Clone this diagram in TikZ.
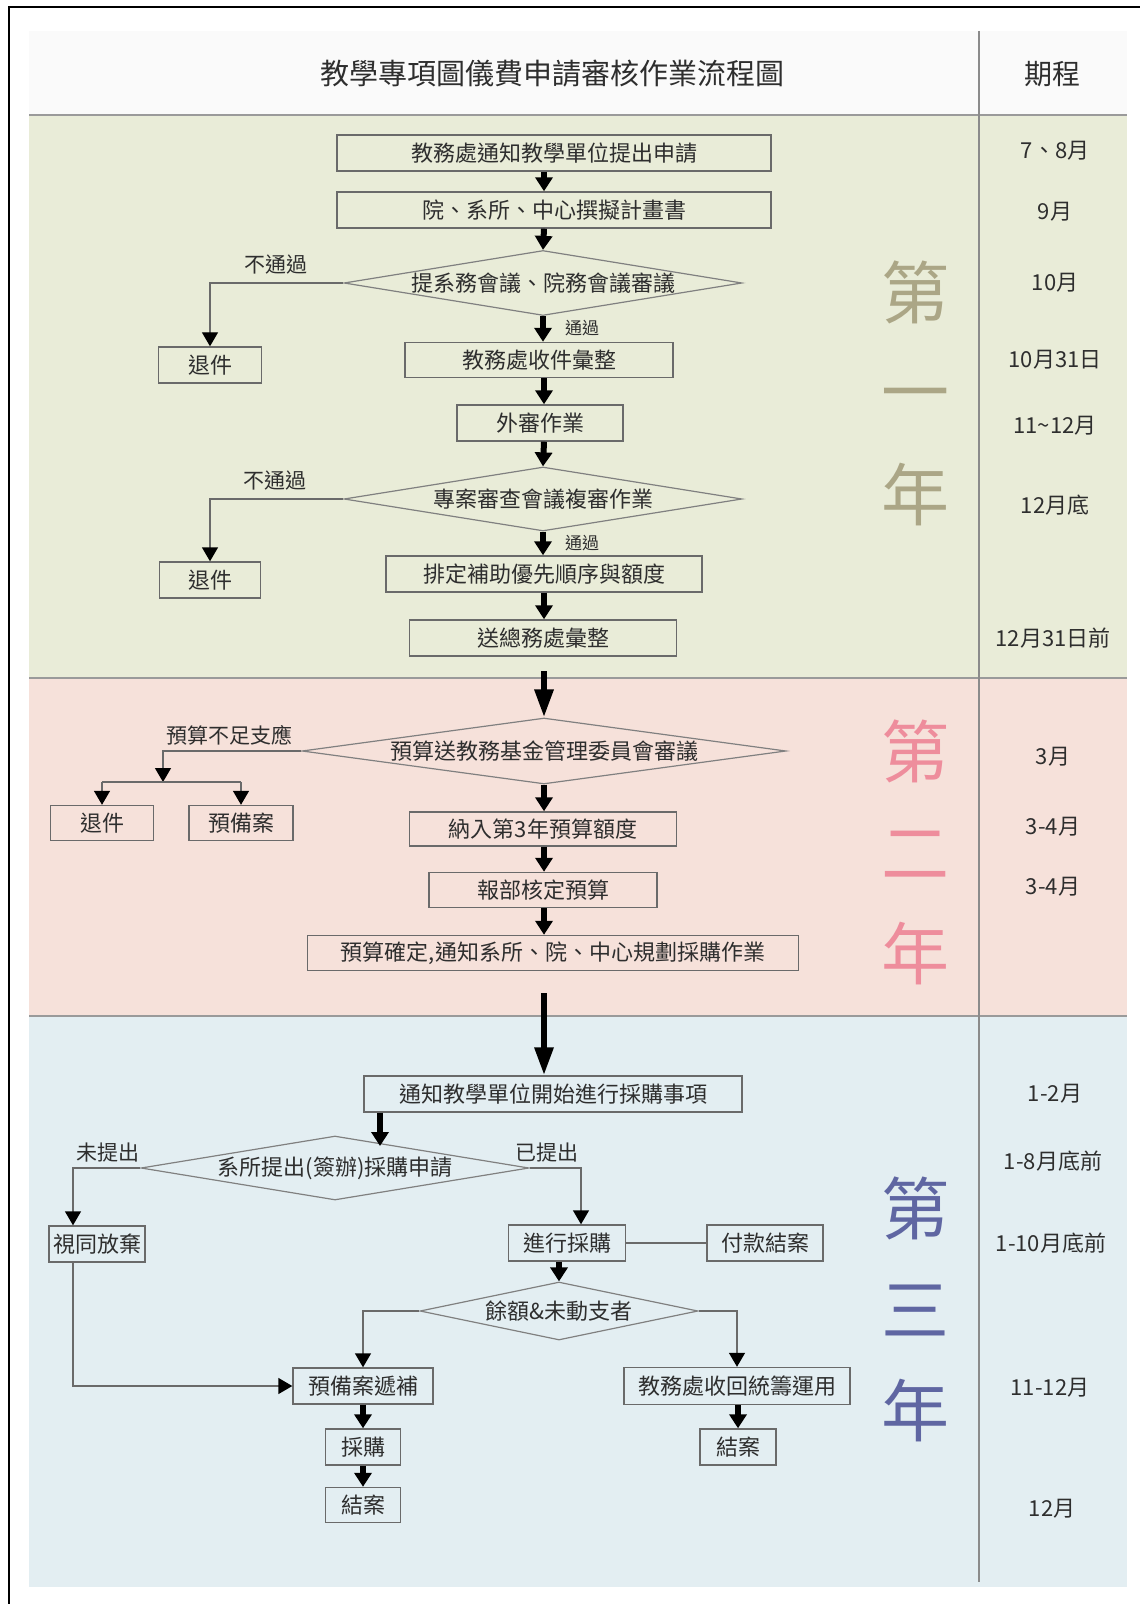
\documentclass[tikz,border=0pt]{standalone}
\usepackage{fontspec}
\setmainfont{Noto Sans CJK TC}
\usetikzlibrary{arrows.meta,shapes.geometric}
\definecolor{secA}{HTML}{E9ECD8}
\definecolor{secB}{HTML}{F6E1DA}
\definecolor{secC}{HTML}{E3EEF2}
\definecolor{hdr}{HTML}{FAFAFA}
\definecolor{yrA}{HTML}{ABA686}
\definecolor{yrB}{HTML}{EE8D9C}
\definecolor{yrC}{HTML}{5F66A2}
\definecolor{edgec}{HTML}{6A6A6A}
\definecolor{txt}{HTML}{2E2E2E}
\definecolor{sepc}{HTML}{9A9A9A}
\begin{document}
\begin{tikzpicture}[x=0.5pt,y=-0.5pt,
  sz/.style 2 args={minimum width=#1*0.5pt, minimum height=#2*0.5pt},
  box/.style={draw=edgec, line width=0.7pt, rectangle, inner sep=0pt, text=txt, font=\fontsize{11}{13}\selectfont},
  dec/.style={draw=edgec!85, line width=0.6pt, diamond, inner sep=0pt, text=txt, font=\fontsize{11}{13}\selectfont},
  big/.style={-{Triangle[width=8.5pt,length=7pt]}, line width=3pt, black},
  bigl/.style={-{Triangle[width=9pt,length=14pt]}, line width=3pt, black},
  conn/.style={-{Triangle[width=8pt,length=7pt,color=black]}, draw=edgec, line width=0.7pt},
  link/.style={draw=edgec, line width=0.7pt},
  lbl/.style={text=txt, font=\fontsize{10.5}{12}\selectfont, inner sep=0pt},
  lbls/.style={text=txt, font=\fontsize{8.5}{10}\selectfont, inner sep=0pt},
  per/.style={text=txt, font=\fontsize{11}{13}\selectfont, inner sep=0pt},
  yr/.style={font=\fontsize{34}{36}\selectfont, inner sep=0pt}
]
\useasboundingbox (0,0) rectangle (1140,1604);
% backgrounds
\fill[white] (0,0) rectangle (1140,1604);
\fill[hdr] (29,31) rectangle (1127,115);
\fill[secA] (29,115) rectangle (1127,678);
\fill[secB] (29,678) rectangle (1127,1016);
\fill[secC] (29,1016) rectangle (1127,1587);
\draw[sepc, line width=1pt] (29,115) -- (1127,115);
\draw[sepc, line width=1pt] (29,678) -- (1127,678);
\draw[sepc, line width=1pt] (29,1016) -- (1127,1016);
\draw[sepc!90!black, line width=0.6pt] (979,31) -- (979,1582);
\draw[black, line width=1pt] (9,1604) -- (9,7) -- (1140,7);

% header
\node[text=txt, font=\fontsize{14.5}{16}\selectfont, inner sep=0pt] (title) at (552,74) {教學專項圖儀費申請審核作業流程圖};
\node[text=txt, font=\fontsize{14}{16}\selectfont, inner sep=0pt] (qc) at (1052,74) {期程};

% year labels
\node[yr, text=yrA] (ya1) at (915,292) {第};
\node[yr, text=yrA] (ya2) at (915,403) {一};
\node[yr, text=yrA] (ya3) at (915,495) {年};
\node[yr, text=yrB] (yb1) at (915,751) {第};
\node[yr, text=yrB] (yb2) at (915,855) {二};
\node[yr, text=yrB] (yb3) at (915,954) {年};
\node[yr, text=yrC] (yc1) at (915,1208) {第};
\node[yr, text=yrC] (yc2) at (915,1310) {三};
\node[yr, text=yrC] (yc3) at (915,1411) {年};

% period labels
\node[per] (t1) at (1055,151) {7、8月};
\node[per] (t2) at (1055,212) {9月};
\node[per] (t3) at (1055,283) {10月};
\node[per] (t4) at (1055,360) {10月31日};
\node[per] (t5) at (1055,426) {11\textasciitilde 12月};
\node[per] (t6) at (1055,505) {12月底};
\node[per] (t7) at (1053,638) {12月31日前};
\node[per] (t8) at (1053,757) {3月};
\node[per] (t9) at (1053,827) {3-4月};
\node[per] (t10) at (1053,887) {3-4月};
\node[per] (t11) at (1055,1094) {1-2月};
\node[per] (t12) at (1053,1161) {1-8月底前};
\node[per] (t13) at (1051,1243) {1-10月底前};
\node[per] (t14) at (1050,1388) {11-12月};
\node[per] (t15) at (1052,1509) {12月};

% section 1
\node[box,sz={434}{36}] (b1) at (554,153) {教務處通知教學單位提出申請};
\node[box,sz={434}{36}] (b2) at (554,210) {院、系所、中心撰擬計畫書};
\node[dec,sz={398}{65}] (d1) at (543,283) {\makebox[0pt]{提系務會議、院務會議審議}};
\node[box,sz={103}{36}] (r1) at (210,365) {退件};
\node[box,sz={268}{35}] (b3) at (539,360) {教務處收件彙整};
\node[box,sz={166}{36}] (b4) at (540,423) {外審作業};
\node[dec,sz={398}{64}] (d2) at (543,499) {\makebox[0pt]{專案審查會議複審作業}};
\node[box,sz={101}{36}] (r2) at (210,580) {退件};
\node[box,sz={316}{36}] (b5) at (544,574) {排定補助優先順序與額度};
\node[box,sz={267}{36}] (b6) at (543,638) {送總務處彙整};

% section 2
\node[dec,sz={484}{66}] (d3) at (544,751) {\makebox[0pt]{預算送教務基金管理委員會審議}};
\node[box,sz={103}{35}] (r3) at (102,823) {退件};
\node[box,sz={104}{35}] (p1) at (241,823) {預備案};
\node[box,sz={267}{34}] (b7) at (543,829) {納入第3年預算額度};
\node[box,sz={228}{35}] (b8) at (543,890) {報部核定預算};
\node[box,sz={491}{35}] (b9) at (553,953) {預算確定,通知系所、院、中心規劃採購作業};

% section 3
\node[box,sz={378}{36}] (b10) at (553,1094) {通知教學單位開始進行採購事項};
\node[dec,sz={388}{64}] (d4) at (335,1168) {\makebox[0pt]{系所提出(簽辦)採購申請}};
\node[box,sz={96}{36}] (b11) at (97,1244) {視同放棄};
\node[box,sz={117}{36}] (b12) at (567,1243) {進行採購};
\node[box,sz={116}{36}] (b13) at (765,1243) {付款結案};
\node[dec,sz={278}{58}] (d5) at (559,1311) {\makebox[0pt]{餘額\&未動支者}};
\node[box,sz={140}{36}] (b14) at (363,1386) {預備案遞補};
\node[box,sz={226}{37}] (b15) at (737,1386) {教務處收回統籌運用};
\node[box,sz={75}{36}] (b16) at (363,1447) {採購};
\node[box,sz={75}{35}] (b17) at (363,1505) {結案};
\node[box,sz={76}{36}] (b18) at (738,1447) {結案};

% labels
\node[lbl] (l1) at (276,265) {不通過};
\node[lbls] (l2) at (582,328) {通過};
\node[lbl] (l3) at (275,481) {不通過};
\node[lbls] (l4) at (582,543) {通過};
\node[lbl] (l5) at (229,735) {預算不足支應};
\node[lbl] (l6) at (108,1153) {未提出};
\node[lbl] (l7) at (547,1153) {已提出};

% spine arrows
\coordinate (sp) at (544,0);
\draw[big] (b1.south -| sp) -- (b2.north -| sp);
\draw[big] (b2.south -| sp) -- (d1.north);
\draw[big] (d1.south) -- (b3.north -| d1.south);
\draw[big] (b3.south -| sp) -- (b4.north -| sp);
\draw[big] (b4.south -| sp) -- (d2.north);
\draw[big] (d2.south) -- (b5.north -| d2.south);
\draw[big] (b5.south -| sp) -- (b6.north -| sp);
\coordinate (s1) at (544,671);
\draw[bigl] (s1) -- (d3.north);
\draw[big] (d3.south) -- (b7.north -| d3.south);
\draw[big] (b7.south -| sp) -- (b8.north -| sp);
\draw[big] (b8.south -| sp) -- (b9.north -| sp);
\coordinate (s2) at (544,993);
\draw[bigl] (s2) -- (b10.north -| s2);

% section 1 branches
\draw[conn] (d1.west) -| (r1.north);
\draw[conn] (d2.west) -| (r2.north);

% section 2 branch
\coordinate (xb) at (163,782);
\draw[conn] (d3.west) -| (xb);
\draw[link] (r3.north |- xb) -- (p1.north |- xb);
\draw[conn] (r3.north |- xb) -- (r3.north);
\draw[conn] (p1.north |- xb) -- (p1.north);

% section 3
\coordinate (d4hit) at (380,1146);
\draw[big] (b10.south -| d4hit) -- (d4hit);
\coordinate (xl) at (73,0);
\coordinate (xr) at (581,0);
\draw[conn] (d4.west) -| (b11.north -| xl);
\draw[conn] (d4.east) -| (b12.north -| xr);
\draw[link] (b12.east) -- (b13.west);
\draw[big] (b12.south -| d5.north) -- (d5.north);
\draw[conn] (d5.west) -| (b14.north);
\draw[conn] (d5.east) -| (b15.north);
\draw[conn] (b11.south -| xl) |- (b14.west);
\draw[big] (b14.south) -- (b16.north);
\draw[big] (b16.south) -- (b17.north);
\draw[big] (b15.south -| b18.north) -- (b18.north);
\end{tikzpicture}
\end{document}
